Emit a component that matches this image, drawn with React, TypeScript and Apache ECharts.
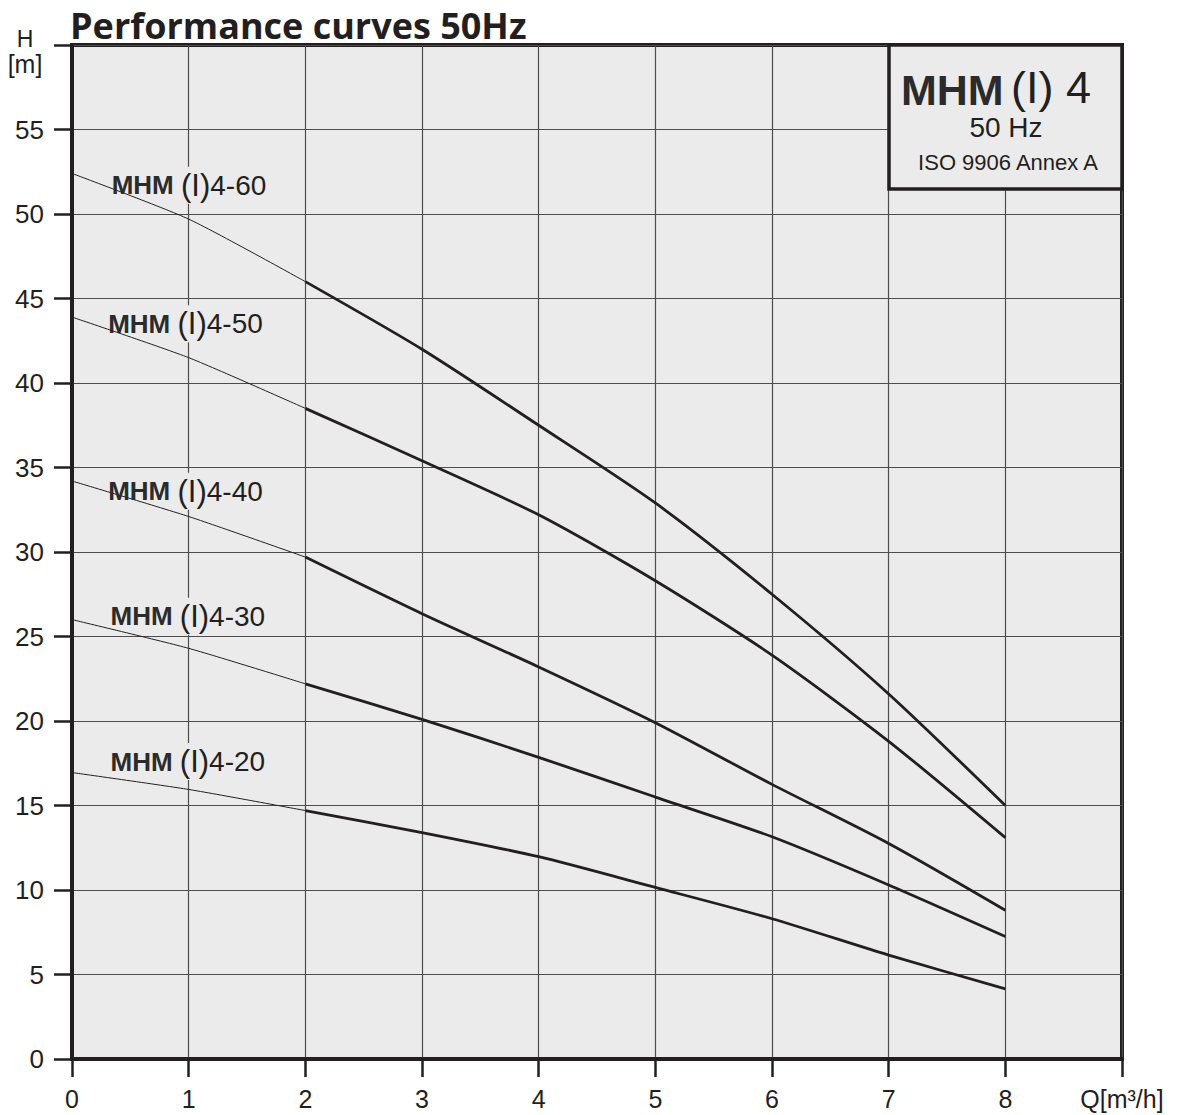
import React, { useEffect, useRef } from "react";
import * as echarts from "echarts";

// Flow Q [m3/h]
const Q_THIN = [0, 1, 2];
const Q_THICK = [2, 3, 4, 5, 6, 7, 8];

// Head H [m] per model: thin part (0..2) and thick operating part (2..8)
const H60_THIN = [52.4, 49.7, 46.0];
const H60_THICK = [46.0, 42.0, 37.5, 32.9, 27.5, 21.6, 15.0];
const H50_THIN = [43.9, 41.5, 38.5];
const H50_THICK = [38.5, 35.4, 32.2, 28.3, 23.9, 18.8, 13.1];
const H40_THIN = [34.2, 32.1, 29.7];
const H40_THICK = [29.7, 26.35, 23.2, 19.9, 16.25, 12.75, 8.8];
const H30_THIN = [26.0, 24.3, 22.2];
const H30_THICK = [22.2, 20.1, 17.85, 15.5, 13.15, 10.3, 7.25];
const H20_THIN = [16.95, 15.95, 14.7];
const H20_THICK = [14.7, 13.4, 11.97, 10.15, 8.3, 6.15, 4.15];

const MODELS = ["4-60", "4-50", "4-40", "4-30", "4-20"];
const THIN = [H60_THIN, H50_THIN, H40_THIN, H30_THIN, H20_THIN];
const THICK = [H60_THICK, H50_THICK, H40_THICK, H30_THICK, H20_THICK];
// label anchors in data units [Q, H]
const LABEL_AT: number[][] = [
  [0.34, 51.7],
  [0.31, 43.5],
  [0.31, 33.6],
  [0.33, 26.2],
  [0.33, 17.6],
];

const X_TICKS_MAX = 9;
const Y_MAX = 60;

const INK = "#231f20";
const FONT = "Liberation Sans";

export default function App() {
  const ref = useRef<HTMLDivElement>(null);
  useEffect(() => {
    if (!ref.current) return;
    const chart = echarts.init(ref.current, null, { renderer: "svg" });
    const series: any[] = [];
    MODELS.forEach((m, i) => {
      series.push({
        name: m + "-thin",
        type: "line",
        data: Q_THIN.map((q, k) => [q, THIN[i][k]]),
        symbol: "none",
        smooth: 0.2,
        silent: true,
        lineStyle: { color: INK, width: 1 },
        z: 5,
      });
      series.push({
        name: m,
        type: "line",
        data: Q_THICK.map((q, k) => [q, THICK[i][k]]),
        symbol: "none",
        smooth: 0.25,
        silent: true,
        lineStyle: { color: INK, width: 2.8 },
        z: 5,
      });
    });
    const option: any = {
      animation: false,
      backgroundColor: "#ffffff",
      textStyle: { fontFamily: FONT },
      grid: {
        left: 72,
        right: 72,
        top: 45,
        bottom: 56,
        show: true,
        backgroundColor: "#ebebeb",
        borderColor: INK,
        borderWidth: 4,
      },
      xAxis: {
        type: "value",
        min: 0,
        max: X_TICKS_MAX,
        interval: 1,
        axisLine: { show: true, onZero: false, lineStyle: { color: INK, width: 4 } },
        axisTick: { show: true, length: 18, lineStyle: { color: INK, width: 2.5 } },
        axisLabel: {
          fontSize: 25,
          color: INK,
          margin: 27,
          fontFamily: FONT,
          formatter: (v: number) => (v === X_TICKS_MAX ? "Q[m³/h]" : String(v)),
        },
        splitLine: { show: true, lineStyle: { color: "#4d4d4d", width: 1.2 } },
      },
      yAxis: {
        type: "value",
        min: 0,
        max: Y_MAX,
        interval: 5,
        axisLine: { show: true, onZero: false, lineStyle: { color: INK, width: 4 } },
        axisTick: { show: true, length: 18, lineStyle: { color: INK, width: 2.5 } },
        axisLabel: {
          fontSize: 26,
          color: INK,
          margin: 28,
          fontFamily: FONT,
          formatter: (v: number) => (v === Y_MAX ? "" : String(v)),
        },
        splitLine: { show: true, lineStyle: { color: "#4d4d4d", width: 1.2 } },
      },
      series,
    };
    chart.setOption(option);

    const labels = MODELS.map((m, i) => {
      const p = chart.convertToPixel({ gridIndex: 0 }, LABEL_AT[i]) as number[];
      return {
        type: "text",
        x: p[0],
        y: p[1],
        z: 100,
        style: {
          text: "{b|MHM} {p|(I)}{r|" + m + "}",
          verticalAlign: "middle",
          align: "left",
          fontFamily: FONT,
          fontSize: 26,
          rich: {
            b: { fontFamily: FONT, fontWeight: "bold", fontSize: 26, fill: "#2b2b2b" },
            p: {
              fontFamily: FONT,
              fontSize: 31,
              fill: INK,
              backgroundColor: "#ebebeb",
              padding: [3, 0],
            },
            r: { fontFamily: FONT, fontSize: 28, fill: INK },
          },
        },
      };
    });

    chart.setOption({
      graphic: [
        {
          type: "text",
          x: 70,
          y: 25,
          z: 100,
          style: {
            text: "Performance curves 50Hz",
            fontFamily: "Open Sans",
            fontWeight: "bold",
            fontSize: 36,
            fill: INK,
            verticalAlign: "middle",
          },
        },
        {
          type: "text",
          x: 25,
          y: 39,
          z: 100,
          style: { text: "H", fontFamily: FONT, fontSize: 23, fill: INK, align: "center", verticalAlign: "middle" },
        },
        {
          type: "text",
          x: 25,
          y: 64,
          z: 100,
          style: { text: "[m]", fontFamily: FONT, fontSize: 25, fill: INK, align: "center", verticalAlign: "middle" },
        },
        {
          type: "rect",
          z: 90,
          shape: { x: 889, y: 45, width: 233, height: 144 },
          style: { fill: "#ebebeb", stroke: INK, lineWidth: 3.5 },
        },
        {
          type: "text",
          x: 901,
          y: 90,
          z: 100,
          style: { text: "MHM", fontFamily: FONT, fontWeight: "bold", fontSize: 43, fill: "#2b2b2b", verticalAlign: "middle" },
        },
        {
          type: "text",
          x: 1011,
          y: 87,
          z: 100,
          style: { text: "(I) 4", fontFamily: FONT, fontSize: 45, fill: INK, verticalAlign: "middle" },
        },
        {
          type: "text",
          x: 1006,
          y: 127,
          z: 100,
          style: { text: "50 Hz", fontFamily: FONT, fontSize: 28, fill: INK, align: "center", verticalAlign: "middle" },
        },
        {
          type: "text",
          x: 1008,
          y: 162,
          z: 100,
          style: { text: "ISO 9906 Annex A", fontFamily: FONT, fontSize: 22, fill: INK, align: "center", verticalAlign: "middle" },
        },
        ...labels,
      ],
    });
    return () => chart.dispose();
  }, []);
  return (
    <div
      ref={ref}
      style={{ position: "fixed", left: 0, top: 0, width: 1194, height: 1115 }}
    />
  );
}
